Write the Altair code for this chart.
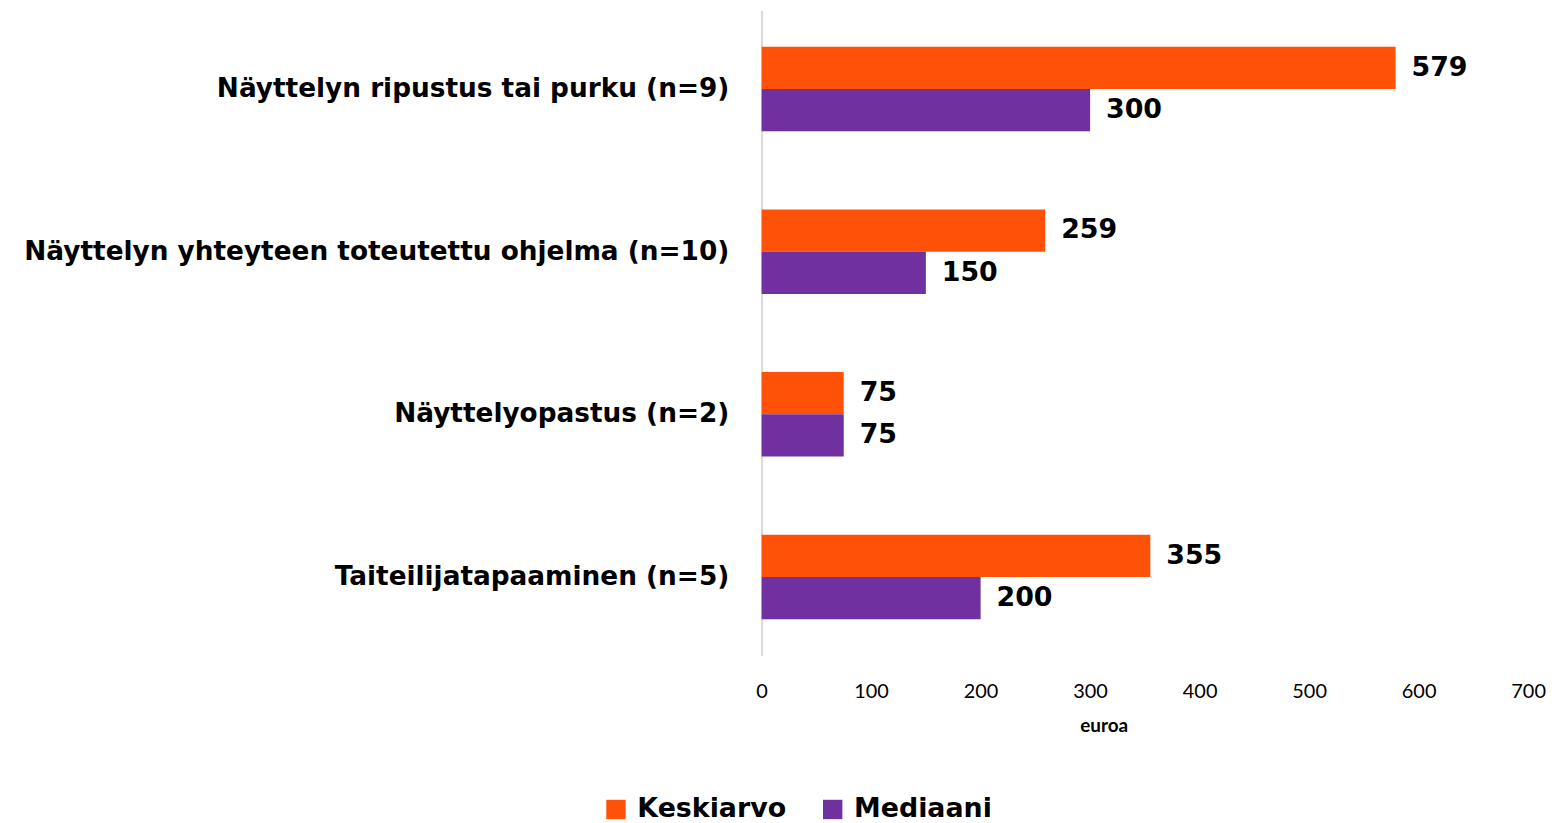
import altair as alt
import pandas as pd

categories = [
    "Näyttelyn ripustus tai purku (n=9)",
    "Näyttelyn yhteyteen toteutettu ohjelma (n=10)",
    "Näyttelyopastus (n=2)",
    "Taiteilijatapaaminen (n=5)",
]
series = ["Keskiarvo", "Mediaani"]
keskiarvo = [579, 259, 75, 355]
mediaani = [300, 150, 75, 200]
colors = ["#FF5208", "#7030A0"]
x_ticks = [0, 100, 200, 300, 400, 500, 600, 700]

rows = []
for i, c in enumerate(categories):
    rows.append({"cat": c, "series": series[0], "value": keskiarvo[i]})
    rows.append({"cat": c, "series": series[1], "value": mediaani[i]})
df = pd.DataFrame(rows)

FONT = "DejaVu Sans"
TICKFONT = "Lato"

y_enc = alt.Y(
    "cat:N",
    sort=categories,
    scale=alt.Scale(paddingInner=0.48, paddingOuter=0.223),
    axis=alt.Axis(
        title=None,
        labelFont=FONT,
        labelFontSize=26.5,
        labelFontWeight="bold",
        labelColor="#000000",
        labelPadding=33,
        ticks=False,
        domainColor="#D9D9D9",
        domainWidth=2,
        labelLimit=1000,
    ),
)
yoff = alt.YOffset("series:N", sort=series, scale=alt.Scale(paddingInner=0, paddingOuter=0))

x_enc = alt.X(
    "value:Q",
    scale=alt.Scale(domain=[0, 700], nice=False),
    axis=alt.Axis(
        values=x_ticks,
        title="euroa",
        titleFont=TICKFONT,
        titleFontSize=19,
        titleFontWeight="bold",
        titleColor="#000000",
        titlePadding=15,
        titleX=344,
        titleAlign="center",
        labelFont=TICKFONT,
        labelFontSize=20,
        labelColor="#000000",
        labelPadding=26,
        domain=False,
        ticks=False,
        grid=False,
        labelFlush=False,
    ),
)

bars = alt.Chart(df).mark_bar(size=42.5).encode(
    x=x_enc,
    y=y_enc,
    yOffset=yoff,
    color=alt.Color(
        "series:N",
        sort=series,
        scale=alt.Scale(domain=series, range=colors),
        legend=alt.Legend(
            title=None,
            orient="none",
            legendX=-160,
            legendY=790,
            direction="horizontal",
            symbolType="square",
            symbolSize=380,
            symbolStrokeWidth=0,
            labelFont=FONT,
            labelFontSize=27,
            labelFontWeight="bold",
            labelColor="#000000",
            columnPadding=33,
            labelOffset=8,
        ),
    ),
)

labels = alt.Chart(df).mark_text(
    align="left", baseline="middle", dx=16, font=FONT, fontSize=27, fontWeight="bold", color="#000000"
).encode(
    x=alt.X("value:Q"),
    y=alt.Y("cat:N", sort=categories),
    yOffset=alt.YOffset("series:N", sort=series),
    text=alt.Text("value:Q"),
)

chart = (
    alt.layer(bars, labels)
    .properties(width=771, height=649)
    .configure(padding={"left": 15, "top": 0, "right": 5, "bottom": 5})
    .configure_view(stroke=None)
)

chart.save("out.html", embed_options={"renderer": "svg", "actions": False})
